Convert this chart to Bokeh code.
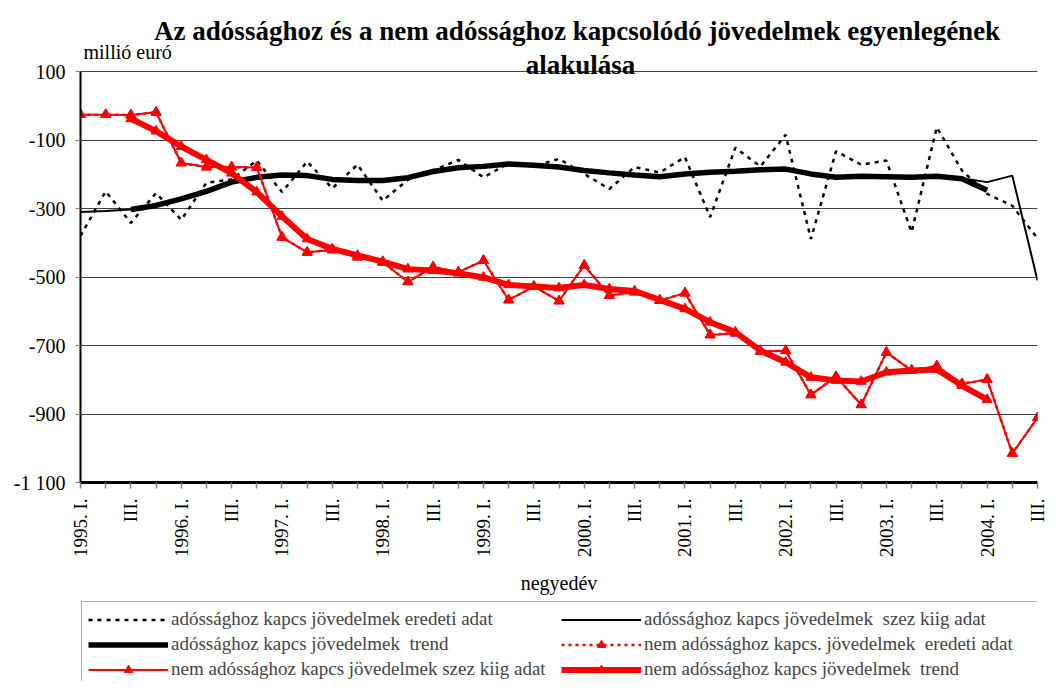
import numpy as np
from bokeh.plotting import figure
from bokeh.layouts import column
from bokeh.models import (Range1d, FixedTicker, Legend, LegendItem, Label, ColumnDataSource)
from bokeh.embed import file_html
from bokeh.resources import INLINE

# ---------------- data (millió euró, quarterly 1995 Q1 - 2004 Q3) ----------------
x_labels = ["1995. I.", "", "III.", "", "1996. I.", "", "III.", "", "1997. I.", "", "III.", "",
            "1998. I.", "", "III.", "", "1999. I.", "", "III.", "", "2000. I.", "", "III.", "",
            "2001. I.", "", "III.", "", "2002. I.", "", "III.", "", "2003. I.", "", "III.", "",
            "2004. I.", "", "III."]

debt_orig = [-380, -250, -342, -255, -333, -225, -215, -160, -252, -163, -241, -172, -277,
             -216, -189, -158, -209, -168, -177, -155, -199, -243, -179, -195, -150, -325,
             -123, -177, -85, -389, -133, -172, -160, -369, -63, -189, -257, -292, -387]

debt_sa = [-310, -307, -303, -291, -272, -250, -223, -209, -202, -204, -215, -218, -218,
           -210, -192, -181, -177, -170, -174, -179, -189, -196, -202, -207, -199, -194,
           -191, -187, -185, -199, -209, -206, -207, -209, -206, -212, -223, -204, -510]

debt_trend = [None, None, -303, -291, -272, -250, -223, -209, -202, -204, -215, -218, -218,
              -210, -192, -181, -177, -170, -174, -179, -189, -196, -202, -207, -199, -194,
              -191, -187, -185, -199, -209, -206, -207, -209, -206, -213, -247, None, None]

nondebt_orig = [-26, -26, -27, -19, -167, -179, -179, -180, -384, -428, -421, -442, -457,
                -514, -471, -486, -452, -567, -528, -570, -466, -554, -544, -569, -547, -669,
                -664, -718, -715, -844, -791, -873, -720, -773, -760, -812, -799, -1015, -911]

nondebt_sa = [-26, -26, -27, -19, -167, -179, -179, -180, -384, -428, -421, -442, -457,
              -514, -471, -486, -452, -567, -528, -570, -466, -554, -544, -569, -547, -669,
              -664, -718, -715, -844, -791, -873, -720, -773, -760, -812, -799, -1015, -911]

nondebt_trend = [None, None, -38, -74, -119, -158, -197, -252, -323, -389, -418, -437, -455,
                 -477, -481, -489, -501, -523, -528, -532, -523, -535, -541, -567, -593, -632,
                 -661, -715, -749, -793, -802, -805, -778, -773, -770, -817, -858, None, None]

y_ticks = [100, -100, -300, -500, -700, -900, -1100]
y_tick_labels = ["100", "-100", "-300", "-500", "-700", "-900", "-1 100"]

title_lines = ["Az adóssághoz  és a nem adóssághoz kapcsolódó jövedelmek egyenlegének",
               "alakulása"]
y_unit = "millió euró"
x_title = "negyedév"
legend_labels = ["adóssághoz kapcs jövedelmek eredeti adat",
                 "adóssághoz kapcs jövedelmek  szez kiig adat",
                 "adóssághoz kapcs jövedelmek  trend",
                 "nem adóssághoz kapcs. jövedelmek  eredeti adat",
                 "nem adóssághoz kapcs jövedelmek szez kiig adat",
                 "nem adóssághoz kapcs jövedelmek  trend"]

# ---------------- helpers ----------------
def nan(vals):
    return [np.nan if v is None else v for v in vals]

xs = list(range(len(x_labels)))
src = ColumnDataSource(dict(
    x=xs,
    debt_orig=debt_orig, debt_sa=debt_sa, debt_trend=nan(debt_trend),
    nondebt_orig=nondebt_orig, nondebt_sa=nondebt_sa, nondebt_trend=nan(nondebt_trend),
))

SERIF = "Liberation Serif"
W, H = 1047, 681
MAIN_H = 600
LEG_H = H - MAIN_H
FRAME_LEFT, FRAME_RIGHT = 80, 1037
AXIS_TOP_PX, FRAME_BOTTOM = 71, 482          # pixel rows of the 100 and -1 100 grid lines
Y_LO, Y_HI = -1100, 100
# frame reaches up to the canvas top so the heading lives inside it
y_top = Y_HI + AXIS_TOP_PX * (Y_HI - Y_LO) / (FRAME_BOTTOM - AXIS_TOP_PX)

p = figure(width=W, height=MAIN_H, output_backend="svg", toolbar_location=None,
           x_range=Range1d(0, len(x_labels) - 1), y_range=Range1d(Y_LO, y_top),
           min_border_left=FRAME_LEFT, min_border_right=W - FRAME_RIGHT,
           min_border_top=0, min_border_bottom=MAIN_H - FRAME_BOTTOM)
p.background_fill_color = "white"
p.border_fill_color = "white"
p.outline_line_color = None

p.xaxis.ticker = FixedTicker(ticks=xs)
p.xaxis.major_label_overrides = {i: lab for i, lab in enumerate(x_labels)}
p.xaxis.major_label_orientation = np.pi / 2
p.xaxis.major_label_text_font = SERIF
p.xaxis.major_label_text_font_size = "19px"
p.xaxis.major_label_text_color = "black"
p.xaxis.axis_line_width = 3
p.xaxis.axis_line_color = "black"
p.xaxis.major_tick_line_color = "#808080"
p.xaxis.major_tick_line_width = 1.5
p.xaxis.major_tick_out = 6
p.xaxis.major_tick_in = 0
p.xaxis.minor_tick_line_color = None
p.xaxis.major_label_standoff = 10
p.xaxis.axis_label = x_title
p.xaxis.axis_label_text_font = SERIF
p.xaxis.axis_label_text_font_size = "20px"
p.xaxis.axis_label_text_font_style = "normal"
p.xaxis.axis_label_text_color = "black"
p.xaxis.axis_label_standoff = 12

p.yaxis.ticker = FixedTicker(ticks=y_ticks)
p.yaxis.bounds = (Y_LO, Y_HI)
p.yaxis.major_label_overrides = {t: l for t, l in zip(y_ticks, y_tick_labels)}
p.yaxis.major_label_text_font = SERIF
p.yaxis.major_label_text_font_size = "20px"
p.yaxis.major_label_text_color = "black"
p.yaxis.axis_line_width = 2
p.yaxis.axis_line_color = "black"
p.yaxis.major_tick_line_color = "#808080"
p.yaxis.major_tick_out = 5
p.yaxis.major_tick_in = 0
p.yaxis.minor_tick_line_color = None
p.yaxis.major_label_standoff = 10

# horizontal grid (the 100 line doubles as the top border); right border as a bounded x grid line
p.ygrid.ticker = FixedTicker(ticks=y_ticks)
p.ygrid.grid_line_color = "#404040"
p.ygrid.grid_line_width = 1.2
p.xgrid.ticker = FixedTicker(ticks=[len(x_labels) - 1])
p.xgrid.bounds = (Y_LO, Y_HI)
p.xgrid.grid_line_color = "#808080"
p.xgrid.grid_line_width = 3

# series (Excel order: later series on top)
STYLES = [
    dict(line_color="black", line_width=2.5, line_dash="4 5"),
    dict(line_color="black", line_width=2),
    dict(line_color="black", line_width=5.5),
    dict(line_color="red", line_width=2.5, line_dash="3 4"),
    dict(line_color="red", line_width=2),
    dict(line_color="red", line_width=6),
]
HAS_MARK = [False, False, False, True, True, True]
cols = ["debt_orig", "debt_sa", "debt_trend", "nondebt_orig", "nondebt_sa", "nondebt_trend"]
for col, st, mk in zip(cols, STYLES, HAS_MARK):
    p.line("x", col, source=src, **st)
    if mk:
        p.scatter("x", col, source=src, marker="triangle", size=10, color="red")

# heading texts inside the (extended) frame; screen units from the frame's bottom-left
def add_text(px, py, text, size, align="center", style="normal"):
    p.add_layout(Label(x=px - FRAME_LEFT, y=FRAME_BOTTOM - py, x_units="screen", y_units="screen",
                       text=text, text_align=align, text_baseline="alphabetic",
                       text_font=SERIF, text_font_size=size, text_font_style=style,
                       text_color="black"))

add_text(580, 30, title_lines[0], "27px", style="bold")
add_text(580, 64, title_lines[1], "27px", style="bold")
add_text(83, 51, y_unit, "20px", align="left")

# ---------------- legend strip ----------------
# key samples: the same series, styled as above; the strip's ranges lie outside the data,
# so only their legend samples show
lg = figure(width=W, height=LEG_H, output_backend="svg", toolbar_location=None,
            x_range=Range1d(100, 101), y_range=Range1d(100, 101),
            x_axis_type=None, y_axis_type=None,
            min_border_left=8, min_border_right=0, min_border_top=0, min_border_bottom=0)
lg.outline_line_color = None
lg.xgrid.visible = False
lg.ygrid.visible = False
items = []
for lab, col, st, mk in zip(legend_labels, cols, STYLES, HAS_MARK):
    rs = [lg.line("x", col, source=src, **st)]
    if mk:
        rs.append(lg.scatter("x", col, source=src, marker="triangle", size=10, color="red"))
    items.append(LegendItem(label=lab, renderers=rs))

legend = Legend(items=items, location="top_left", orientation="horizontal", ncols=2,
                glyph_width=80, glyph_height=21, label_height=21, label_width=387,
                label_standoff=3, spacing=3, padding=6, margin=1,
                label_text_font=SERIF, label_text_font_size="19px",
                border_line_color="#606060", border_line_width=1.5,
                background_fill_color="white", background_fill_alpha=1)
lg.add_layout(legend)

open("out.html", "w").write(file_html(column(p, lg), INLINE))
